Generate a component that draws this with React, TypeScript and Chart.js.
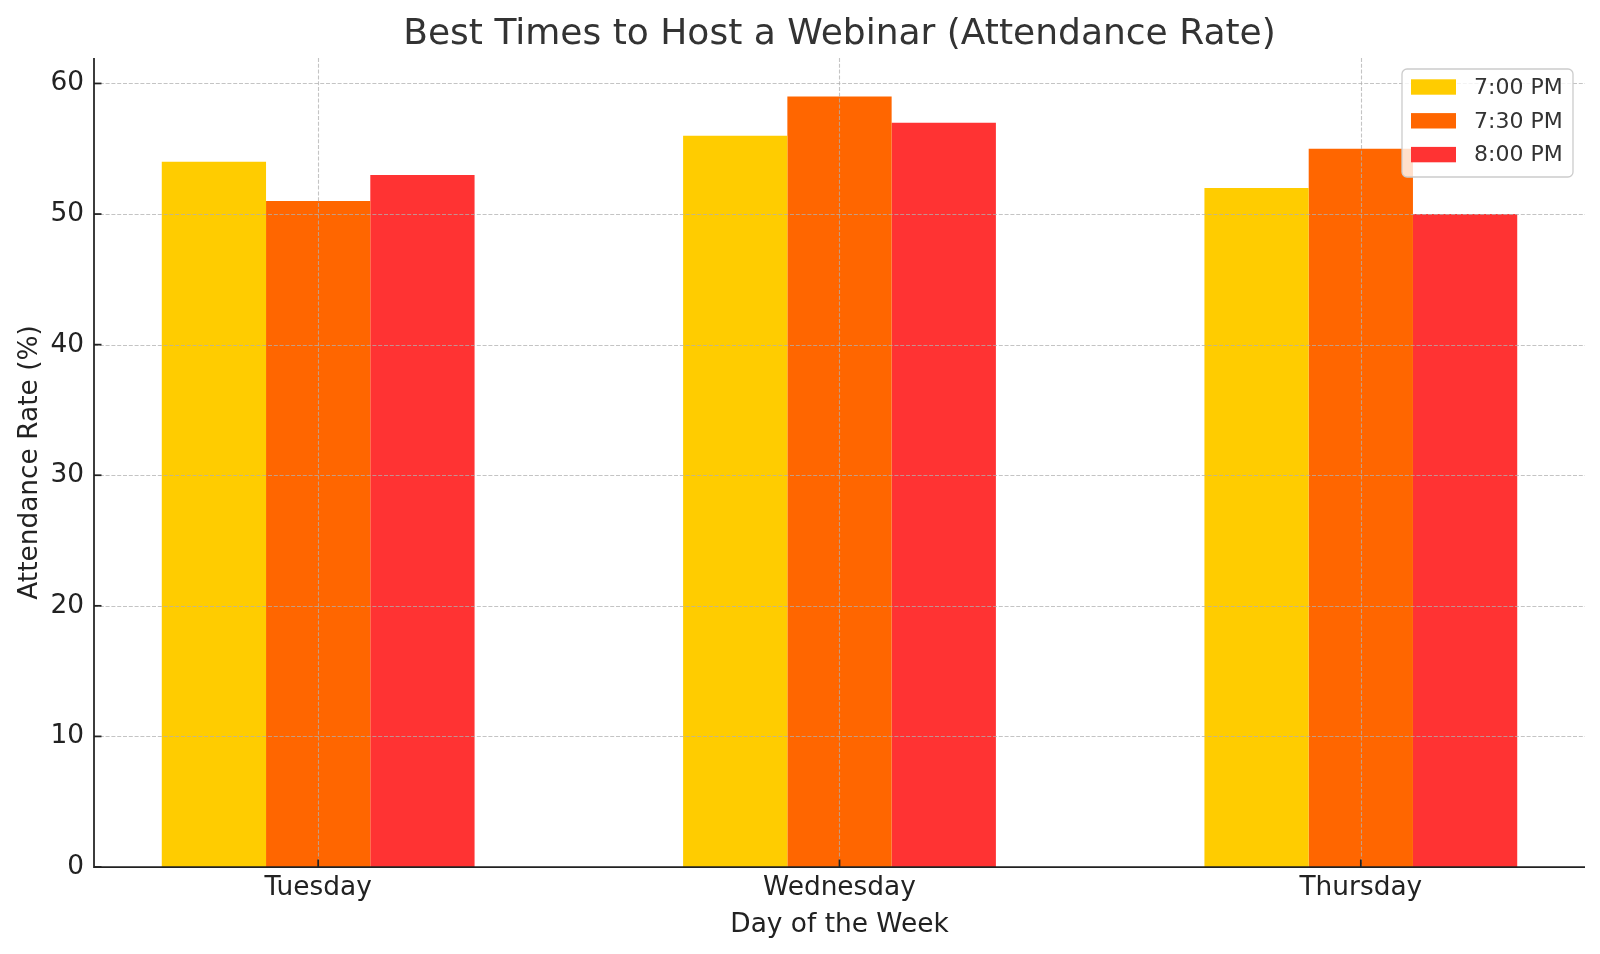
import React, { useRef, useEffect } from 'react';
import Chart from 'chart.js/auto';

// data
const chartTitle = 'Best Times to Host a Webinar (Attendance Rate)';
const days = ['Tuesday', 'Wednesday', 'Thursday'];
const slots = ['7:00 PM', '7:30 PM', '8:00 PM'];
const rate700 = [54, 56, 52];
const rate730 = [51, 59, 55];
const rate800 = [53, 57, 50];
const slotColors = ['#FFCC00', '#FF6600', '#FF3333'];
const yTicks = [0, 10, 20, 30, 40, 50, 60];

const FONT = '"DejaVu Sans", Verdana, sans-serif';

// title centred over the plot area (matplotlib style), not over the canvas
const plotTitle = {
  id: 'plotTitle',
  afterDraw(chart: any) {
    const { ctx, chartArea } = chart;
    ctx.save();
    ctx.font = `36px ${FONT}`;
    ctx.fillStyle = '#333';
    ctx.textAlign = 'center';
    ctx.textBaseline = 'alphabetic';
    ctx.fillText(chartTitle, (chartArea.left + chartArea.right) / 2, 43.5);
    ctx.restore();
  },
};

// grid over the bars, inward tick marks and the two spines
const axesOverlay = {
  id: 'axesOverlay',
  afterDatasetsDraw(chart: any) {
    const { ctx, chartArea } = chart;
    const { left, right, top, bottom } = chartArea;
    const xs = chart.scales.x;
    const ys = chart.scales.y;
    ctx.save();
    ctx.strokeStyle = 'rgba(176,176,176,0.75)';
    ctx.lineWidth = 1.1;
    ctx.setLineDash([4, 1.8]);
    xs.ticks.forEach((t: any) => {
      const px = Math.round(xs.getPixelForValue(t.value)) + 0.5;
      ctx.beginPath();
      ctx.moveTo(px, top);
      ctx.lineTo(px, bottom);
      ctx.stroke();
    });
    ys.ticks.forEach((t: any) => {
      const py = Math.round(ys.getPixelForValue(t.value)) + 0.5;
      ctx.beginPath();
      ctx.moveTo(left, py);
      ctx.lineTo(right, py);
      ctx.stroke();
    });
    ctx.setLineDash([]);
    ctx.strokeStyle = '#222';
    ctx.lineWidth = 1.75;
    xs.ticks.forEach((t: any) => {
      const px = xs.getPixelForValue(t.value);
      ctx.beginPath();
      ctx.moveTo(px, bottom);
      ctx.lineTo(px, bottom - 7.5);
      ctx.stroke();
    });
    ys.ticks.forEach((t: any) => {
      const py = ys.getPixelForValue(t.value);
      ctx.beginPath();
      ctx.moveTo(left, py);
      ctx.lineTo(left + 7.5, py);
      ctx.stroke();
    });
    ctx.beginPath();
    ctx.moveTo(left, top);
    ctx.lineTo(left, bottom);
    ctx.lineTo(right, bottom);
    ctx.stroke();
    ctx.restore();
  },
};

// legend box in the upper right corner of the plot
const insideLegend = {
  id: 'insideLegend',
  afterDraw(chart: any) {
    const { ctx, chartArea } = chart;
    const boxRight = chartArea.right - 12;
    const boxLeft = boxRight - 171;
    const boxTop = chartArea.top + 11;
    const boxH = 108;
    ctx.save();
    ctx.beginPath();
    ctx.roundRect(boxLeft, boxTop, boxRight - boxLeft, boxH, 5);
    ctx.fillStyle = 'rgba(255,255,255,0.8)';
    ctx.fill();
    ctx.strokeStyle = '#cccccc';
    ctx.lineWidth = 1.3;
    ctx.stroke();
    ctx.font = `22px ${FONT}`;
    ctx.textBaseline = 'middle';
    ctx.textAlign = 'left';
    chart.data.datasets.forEach((ds: any, i: number) => {
      const cy = boxTop + 18 + i * 33.8;
      ctx.fillStyle = ds.backgroundColor;
      ctx.fillRect(boxLeft + 9, cy - 7.7, 45, 15.4);
      ctx.fillStyle = '#333';
      ctx.fillText(ds.label, boxLeft + 72, cy + 1);
    });
    ctx.restore();
  },
};

const App = () => {
  const canvasRef = useRef<HTMLCanvasElement>(null);
  const chartRef = useRef<Chart | null>(null);

  useEffect(() => {
    document.body.style.margin = '0';
    if (!canvasRef.current) return;
    const series = [rate700, rate730, rate800];
    chartRef.current = new Chart(canvasRef.current, {
      type: 'bar',
      data: {
        datasets: series.map((vals, i) => ({
          label: slots[i],
          data: vals.map((v, j) => ({ x: j, y: v })),
          backgroundColor: slotColors[i],
          borderWidth: 0,
          categoryPercentage: 0.6,
          barPercentage: 1.0,
        })),
      },
      options: {
        responsive: false,
        animation: false,
        layout: { padding: { left: 0, right: 15, top: 58, bottom: 0 } },
        plugins: {
          legend: { display: false },
          tooltip: { enabled: false },
          title: { display: false },
        },
        scales: {
          x: {
            type: 'linear',
            min: -0.43,
            max: 2.43,
            offset: false,
            grid: { display: false, drawTicks: false },
            border: { display: false },
            afterBuildTicks: (scale: any) => {
              scale.ticks = days.map((_, i) => ({ value: i }));
            },
            afterFit: (scale: any) => {
              scale.height = 87;
            },
            ticks: {
              callback: (v: any) => days[v] ?? '',
              color: '#222',
              padding: 5,
              maxRotation: 0,
              autoSkip: false,
              font: { family: FONT, size: 26.4, lineHeight: 1.2 },
            },
            title: {
              display: true,
              text: 'Day of the Week',
              color: '#222',
              font: { family: FONT, size: 26.4, lineHeight: 1.2 },
              padding: { top: 0, bottom: 12.7 },
            },
          },
          y: {
            min: 0,
            max: 61.95,
            grid: { display: false, drawTicks: false },
            border: { display: false },
            afterBuildTicks: (scale: any) => {
              scale.ticks = yTicks.map((v) => ({ value: v }));
            },
            afterFit: (scale: any) => {
              scale.width = 94;
            },
            ticks: {
              color: '#222',
              padding: 10,
              font: { family: FONT, size: 26.4, lineHeight: 1.2 },
            },
            title: {
              display: true,
              text: 'Attendance Rate (%)',
              color: '#222',
              font: { family: FONT, size: 26.4, lineHeight: 1.2 },
              padding: { top: 14.7, bottom: 0 },
            },
          },
        },
      },
      plugins: [axesOverlay, insideLegend, plotTitle],
    } as any);

    return () => {
      if (chartRef.current) {
        chartRef.current.destroy();
        chartRef.current = null;
      }
    };
  }, []);

  return (
    <div style={{ width: 1600, height: 954 }}>
      <canvas ref={canvasRef} width={1600} height={954} />
    </div>
  );
};

export default App;
